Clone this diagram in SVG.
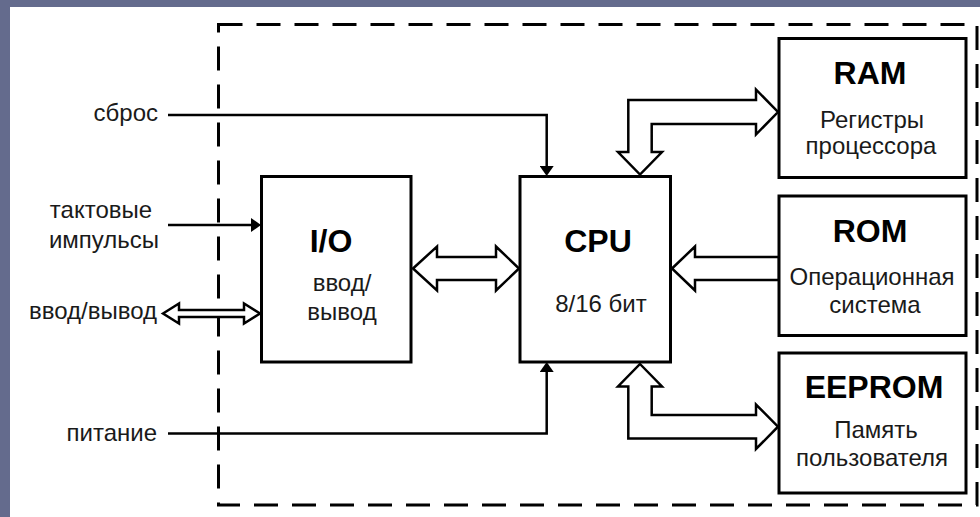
<svg xmlns="http://www.w3.org/2000/svg" width="980" height="517" viewBox="0 0 980 517">
  <style>
    .box { fill: #ffffff; stroke: #000000; stroke-width: 3; }
    .wire { fill: none; stroke: #000000; stroke-width: 2.5; }
    .bus { fill: #ffffff; stroke: #000000; stroke-width: 2.5; stroke-linejoin: miter; }
    .frame { fill: none; stroke: #000000; stroke-width: 3; stroke-dasharray: 24 14; }
    .title { font-family: "Liberation Sans", Arial, sans-serif; font-weight: bold; font-size: 32px; fill: #000000; text-anchor: middle; }
    .sub { font-family: "Liberation Sans", Arial, sans-serif; font-size: 24px; fill: #1a1a1a; text-anchor: middle; }
    .lbl { font-family: "Liberation Sans", Arial, sans-serif; font-size: 24px; fill: #1a1a1a; text-anchor: end; }
  </style>
  <defs>
    <marker id="tip" markerUnits="userSpaceOnUse" viewBox="0 0 10 14" markerWidth="10" markerHeight="14" refX="5" refY="7" orient="auto">
      <path d="M0,0 L10,7 L0,14 Z" fill="#000000"/>
    </marker>
  </defs>

  <!-- background -->
  <rect x="0" y="0" width="980" height="517" fill="#646b8d"/>
  <rect x="10" y="7" width="970" height="510" fill="#ffffff"/>

  <!-- dashed frame -->
  <path class="frame" d="M218.5,24.5 H977 V505 H218.5 Z"/>

  <g id="connectors">
    <!-- сброс -->
    <path class="wire" d="M168,115 H546.7 V171" marker-end="url(#tip)"/>
    <!-- тактовые импульсы -->
    <path class="wire" d="M168,225 H256" marker-end="url(#tip)"/>
    <!-- питание -->
    <path class="wire" d="M168,433.5 H546.7 V367" marker-end="url(#tip)"/>
    <!-- ввод/вывод double arrow -->
    <polygon class="bus" points="163,313.5 179,303.5 179,310 244,310 244,303.5 260,313.5 244,323.5 244,317 179,317 179,323.5"/>
    <!-- I/O <-> CPU -->
    <polygon class="bus" points="413,268.5 437,246.5 437,257 496,257 496,246.5 519,268.5 496,290.5 496,280 437,280 437,290.5"/>
    <!-- ROM -> CPU -->
    <polygon class="bus" points="672,268.5 695,246.5 695,257 779,257 779,280 695,280 695,290.5"/>
    <!-- CPU <-> RAM -->
    <polygon class="bus" points="628.3,100 756,100 756,89.5 778,112 756,134.5 756,124 651.7,124 651.7,152 662,152 640,174.5 618,152 628.3,152"/>
    <!-- CPU <-> EEPROM -->
    <polygon class="bus" points="640,364 662,386.5 651.7,386.5 651.7,415 756,415 756,404.5 778,426.7 756,449 756,438.5 628.3,438.5 628.3,386.5 618,386.5"/>
  </g>

  <!-- external labels -->
  <g id="label-sbros"><text class="lbl" x="158" y="121">сброс</text></g>
  <g id="label-clock">
    <text class="sub" x="101" y="218">тактовые</text>
    <text class="sub" x="104" y="248">импульсы</text>
  </g>
  <g id="label-io"><text class="lbl" x="157" y="319">ввод/вывод</text></g>
  <g id="label-power"><text class="lbl" x="157" y="441">питание</text></g>

  <g id="node-io">
    <rect class="box" x="261.5" y="176.5" width="149.5" height="185.5"/>
    <text class="title" x="331" y="252">I/O</text>
    <text class="sub" x="342" y="291">ввод/</text>
    <text class="sub" x="342" y="320">вывод</text>
  </g>

  <g id="node-cpu">
    <rect class="box" x="520" y="176.5" width="150.5" height="185.5"/>
    <text class="title" x="598" y="252">CPU</text>
    <text class="sub" x="601" y="312">8/16 бит</text>
  </g>

  <g id="node-ram">
    <rect class="box" x="779" y="38.5" width="187" height="139"/>
    <text class="title" x="870" y="83.5">RAM</text>
    <text class="sub" x="872" y="128">Регистры</text>
    <text class="sub" x="871" y="154">процессора</text>
  </g>

  <g id="node-rom">
    <rect class="box" x="779" y="196" width="187" height="139.5"/>
    <text class="title" x="870" y="241.5">ROM</text>
    <text class="sub" x="872" y="285">Операционная</text>
    <text class="sub" x="875" y="313">система</text>
  </g>

  <g id="node-eeprom">
    <rect class="box" x="779" y="353" width="187" height="140"/>
    <text class="title" x="874" y="398">EEPROM</text>
    <text class="sub" x="876" y="438">Память</text>
    <text class="sub" x="872" y="466">пользователя</text>
  </g>
</svg>
